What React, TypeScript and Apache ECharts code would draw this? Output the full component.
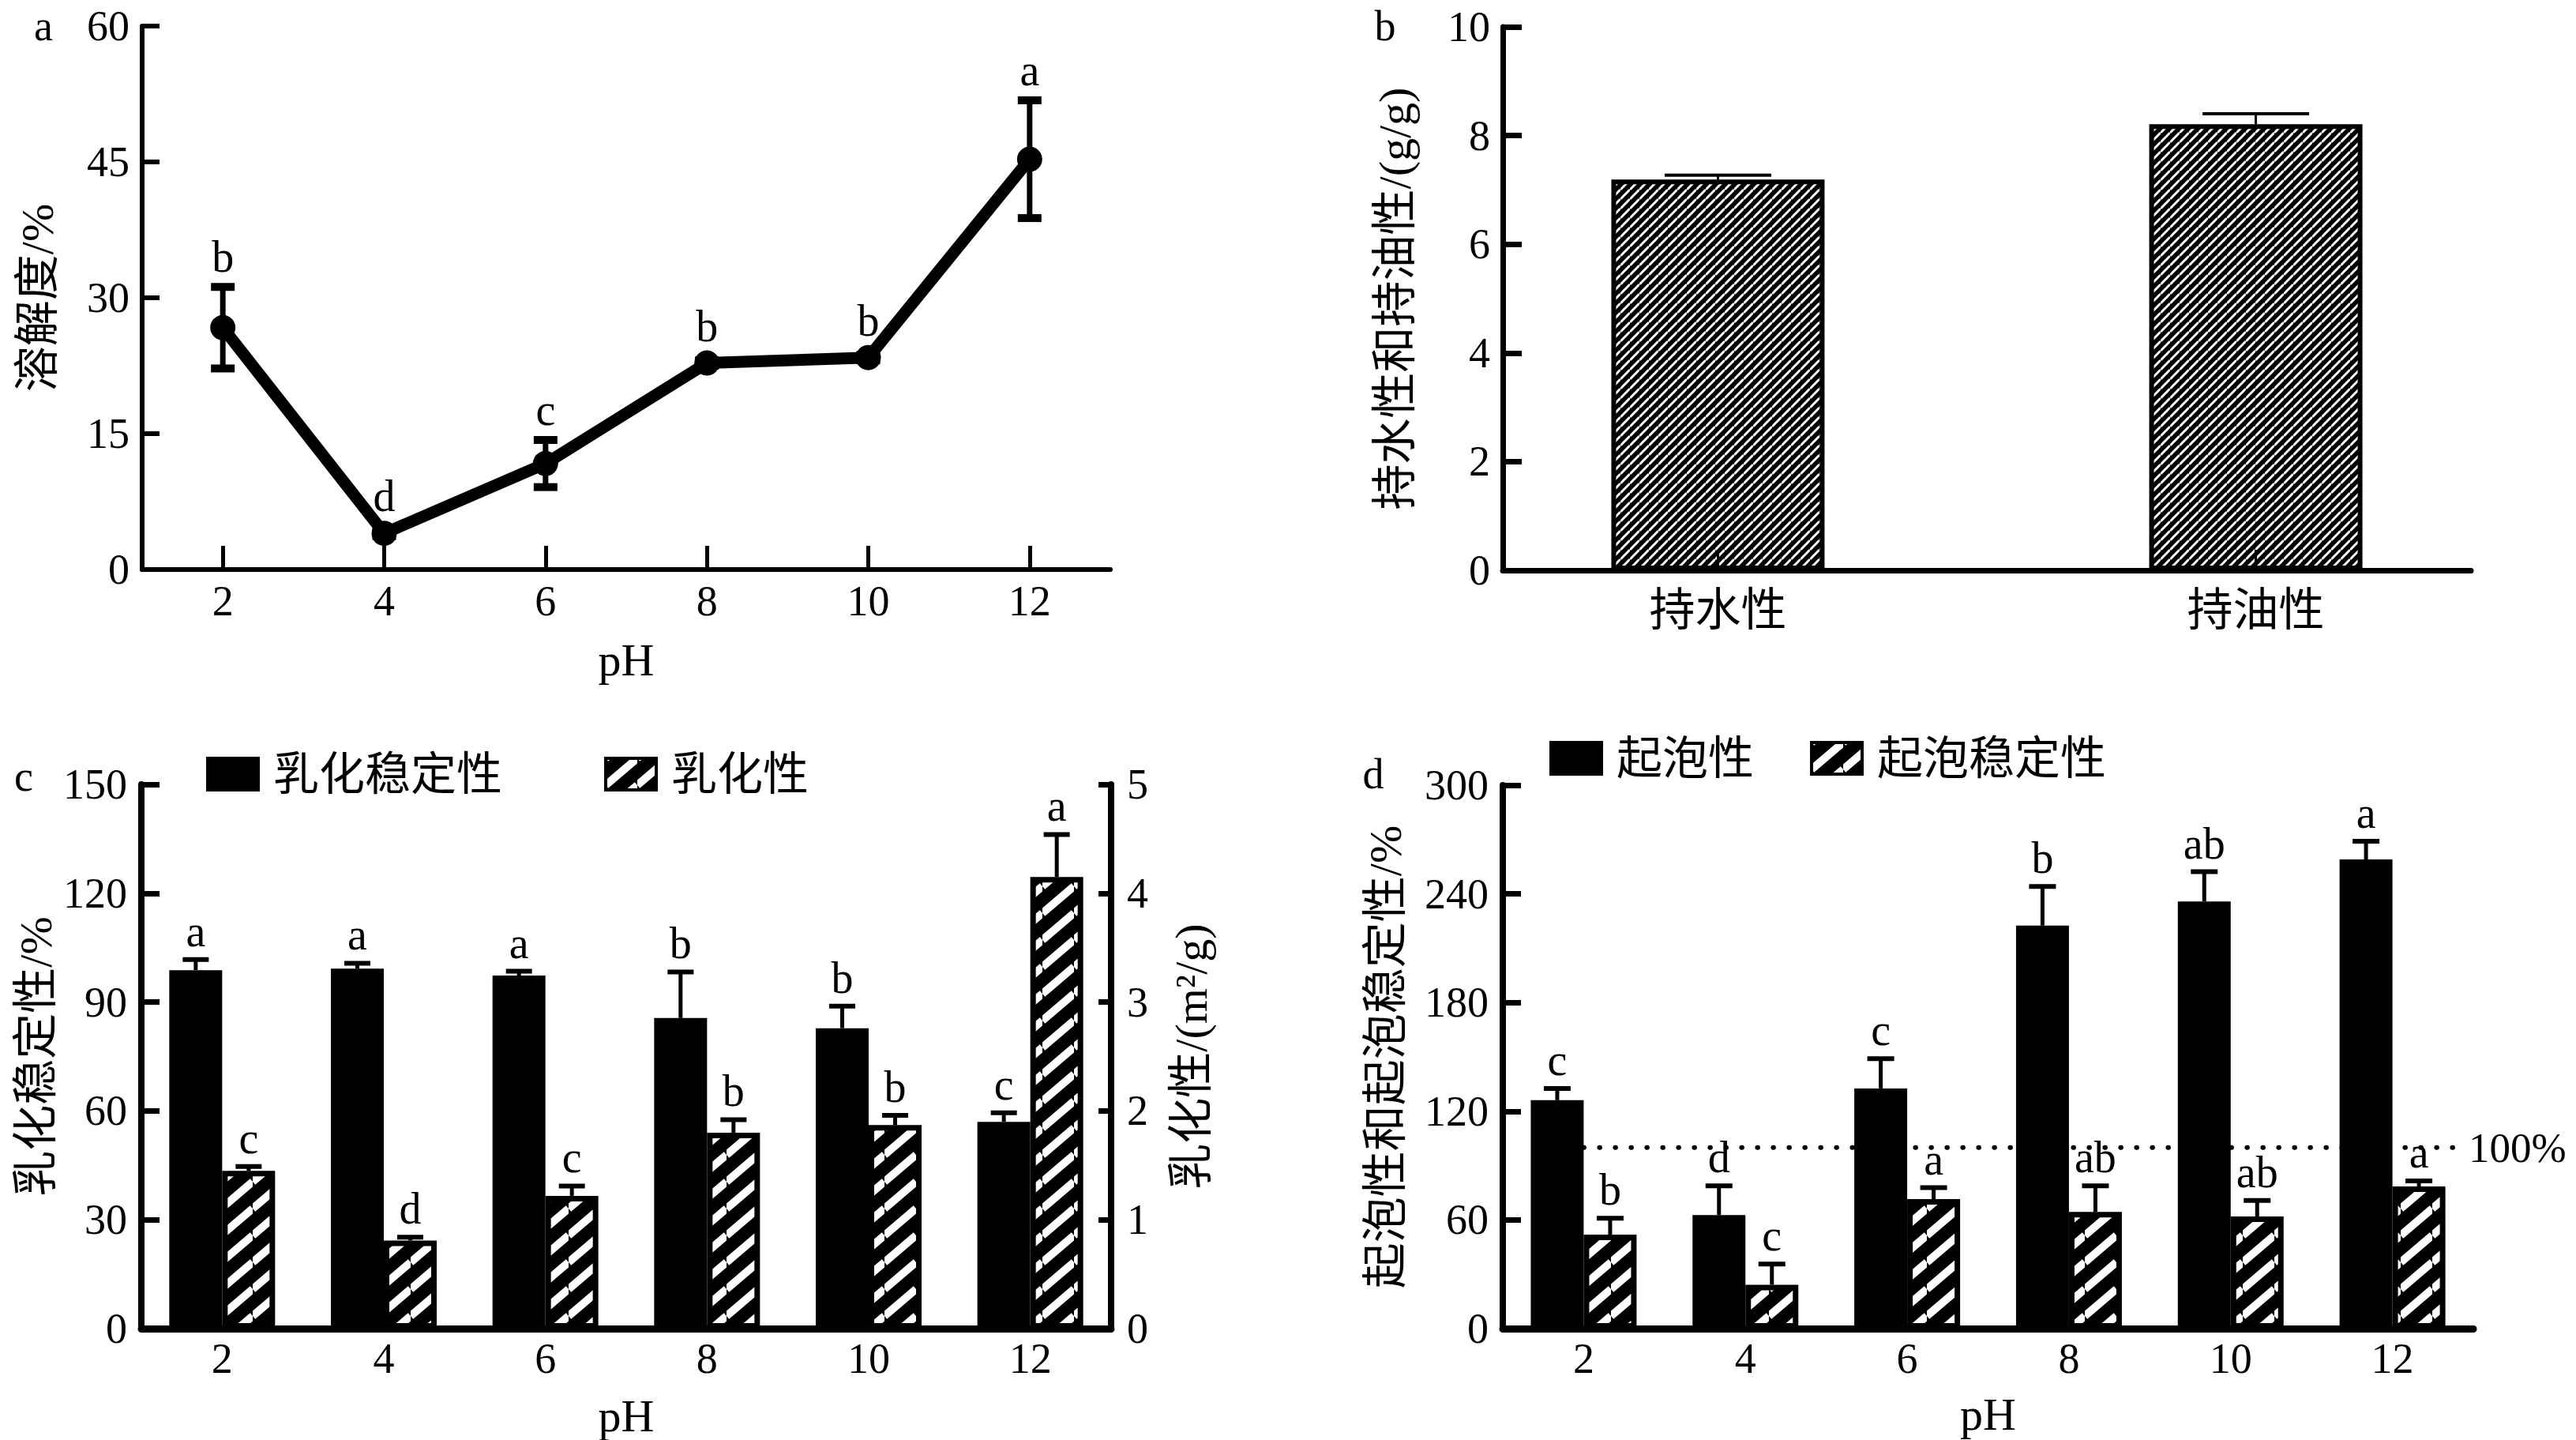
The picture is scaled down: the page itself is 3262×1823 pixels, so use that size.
import React, { useEffect, useRef } from 'react'
import * as echarts from 'echarts'

// shared category axis for a, c and d
const pH = ['2', '4', '6', '8', '10', '12']

// a: 溶解度 (%)
const solubility = [26.7, 4.0, 11.7, 22.8, 23.4, 45.3]
const solubilityErr = [4.5, 0.3, 2.6, 0.3, 0.3, 6.5]
const solubilityLetters = ['b', 'd', 'c', 'b', 'b', 'a']

// b: 持水性 / 持油性 (g/g)
const holdingNames = ['持水性', '持油性']
const holding = [7.19, 8.21]
const holdingErr = [0.08, 0.19]

// c: 乳化稳定性 (%) on the left axis, 乳化性 (m²/g) on the right axis
const emulStability = [98.8, 99.2, 97.3, 85.6, 82.8, 57.0]
const emulStabilityErr = [2.9, 1.5, 1.2, 12.7, 6.1, 2.5]
const emulStabilityLetters = ['a', 'a', 'a', 'b', 'b', 'c']
const emulActivity = [1.45, 0.81, 1.22, 1.8, 1.87, 4.15]
const emulActivityErr = [0.04, 0.03, 0.09, 0.12, 0.09, 0.39]
const emulActivityLetters = ['c', 'd', 'c', 'b', 'b', 'a']

// d: 起泡性 / 起泡稳定性 (%)
const foaming = [126.1, 62.7, 132.6, 222.5, 235.8, 259.0]
const foamingErr = [6.5, 16.1, 16.4, 21.6, 16.4, 10.0]
const foamingLetters = ['c', 'd', 'c', 'b', 'ab', 'a']
const foamStability = [51.9, 24.2, 71.5, 64.4, 61.9, 78.5]
const foamStabilityErr = [9.0, 11.5, 6.3, 14.4, 8.8, 3.0]
const foamStabilityLetters = ['b', 'c', 'a', 'ab', 'ab', 'a']
const foamReference = 100

const SERIF = '"Liberation Serif", "Noto Sans CJK SC", serif'
const BAR_W = 67

const makeHatch = (w: number, h: number, lineWidth: number) => {
  const c = document.createElement('canvas')
  c.width = w
  c.height = h
  const ctx = c.getContext('2d')!
  ctx.fillStyle = '#000'
  ctx.fillRect(0, 0, w, h)
  ctx.strokeStyle = '#fff'
  ctx.lineWidth = lineWidth
  for (const k of [-1, 0, 1]) {
    ctx.beginPath()
    ctx.moveTo(0, h + k * h)
    ctx.lineTo(w, k * h)
    ctx.stroke()
  }
  return { image: c, repeat: 'repeat', imageWidth: w, imageHeight: h } as any
}

const tickLabel = { color: '#000', fontSize: 54, fontFamily: SERIF, lineHeight: 40 }
const nameText = { color: '#000', fontSize: 58, fontFamily: SERIF }

const line = (width: number) => ({ show: true, onZero: false, lineStyle: { color: '#000', width } })
const tick = (length: number, width: number) => ({
  show: true,
  inside: true,
  length,
  lineStyle: { color: '#000', width }
})

interface ErrOpts {
  xAxisIndex: number
  yAxisIndex: number
  values: number[]
  errs: number[]
  letters?: string[]
  offset: number
  capWidth: number
  capThick: number
  lineWidth: number
  both?: boolean
  minLabelGap?: number
}

// error bars plus significance letters, drawn through the axes' own scales
const errorSeries = (o: ErrOpts) => ({
  type: 'custom',
  xAxisIndex: o.xAxisIndex,
  yAxisIndex: o.yAxisIndex,
  z: 5,
  silent: true,
  clip: false,
  data: o.values.map((v, i) => [i, v, o.errs[i]]),
  renderItem: (params: any, api: any) => {
    const i = api.value(0)
    const v = api.value(1)
    const e = api.value(2)
    const base = api.coord([i, v])
    const hi = api.coord([i, v + e])
    const lo = api.coord([i, v - e])
    const x = base[0] + o.offset
    const stroke = { stroke: '#000' }
    const children: any[] = [
      {
        type: 'line',
        shape: { x1: x, y1: o.both ? lo[1] : base[1], x2: x, y2: hi[1] },
        style: { ...stroke, lineWidth: o.lineWidth }
      },
      {
        type: 'line',
        shape: { x1: x - o.capWidth / 2, y1: hi[1], x2: x + o.capWidth / 2, y2: hi[1] },
        style: { ...stroke, lineWidth: o.capThick }
      }
    ]
    if (o.both) {
      children.push({
        type: 'line',
        shape: { x1: x - o.capWidth / 2, y1: lo[1], x2: x + o.capWidth / 2, y2: lo[1] },
        style: { ...stroke, lineWidth: o.capThick }
      })
    }
    if (o.letters) {
      let y = hi[1] - o.capThick / 2 - 5
      if (o.minLabelGap) y = Math.min(y, base[1] - o.minLabelGap)
      children.push({
        type: 'text',
        x,
        y,
        style: {
          text: o.letters[params.dataIndex],
          fontSize: 56,
          fontFamily: SERIF,
          fill: '#000',
          align: 'center',
          verticalAlign: 'bottom'
        }
      })
    }
    return { type: 'group', children }
  }
})

const buildOption = () => {
  const coarseHatch = makeHatch(40, 34, 10)
  const fineHatch = makeHatch(12, 12, 3)

  const legendBase = {
    orient: 'horizontal',
    selectedMode: false,
    padding: 0,
    icon: 'rect',
    itemWidth: 64,
    itemHeight: 40,
    itemStyle: { borderColor: '#000', borderWidth: 4 },
    textStyle: { ...nameText, lineHeight: 60, padding: [0, 0, 0, 14] }
  }

  const panelLetter = (text: string, x: number, y: number) => ({
    type: 'text',
    x,
    y,
    style: {
      text,
      fontSize: 54,
      lineHeight: 40,
      fontFamily: SERIF,
      fill: '#000',
      align: 'center',
      verticalAlign: 'middle'
    }
  })

  const pHName = (gap: number) => ({
    name: 'pH',
    nameLocation: 'middle',
    nameGap: gap,
    nameTextStyle: { ...nameText, lineHeight: 44 }
  })

  return {
    animation: false,
    backgroundColor: '#fff',
    grid: [
      { left: 180, top: 33, width: 1226, height: 688 },
      { left: 1903, top: 34, width: 1226, height: 688 },
      { left: 179, top: 993, width: 1228, height: 689 },
      { left: 1903, top: 994, width: 1229, height: 688 }
    ],
    legend: [
      { ...legendBase, data: ['乳化稳定性'], left: 261, top: 950 },
      { ...legendBase, data: ['乳化性'], left: 765, top: 950 },
      { ...legendBase, data: ['起泡性'], left: 1962, top: 930 },
      { ...legendBase, data: ['起泡稳定性'], left: 2292, top: 930 }
    ],
    graphic: [
      panelLetter('a', 55, 33),
      panelLetter('b', 1754, 33),
      panelLetter('c', 30, 983),
      panelLetter('d', 1739, 980)
    ],
    xAxis: [
      {
        gridIndex: 0,
        type: 'category',
        data: pH,
        boundaryGap: true,
        axisLine: line(6),
        axisTick: { ...tick(30, 5), alignWithLabel: true },
        axisLabel: { ...tickLabel, margin: 20 },
        ...pHName(92)
      },
      {
        gridIndex: 1,
        type: 'value',
        min: -0.4,
        max: 1.4,
        z: 3,
        axisLine: line(7),
        axisTick: { ...tick(26, 3), customValues: [0, 1] },
        axisLabel: {
          ...tickLabel,
          fontSize: 58,
          lineHeight: 58,
          margin: 21,
          customValues: [0, 1],
          formatter: (v: number) => holdingNames[Math.round(v)] ?? ''
        },
        splitLine: { show: false }
      },
      {
        gridIndex: 2,
        type: 'category',
        data: pH,
        boundaryGap: true,
        axisLine: line(9),
        axisTick: { show: false },
        axisLabel: { ...tickLabel, margin: 18 },
        ...pHName(88)
      },
      {
        gridIndex: 3,
        type: 'category',
        data: pH,
        boundaryGap: true,
        axisLine: line(9),
        axisTick: { show: false },
        axisLabel: { ...tickLabel, margin: 18 },
        ...pHName(86)
      }
    ],
    yAxis: [
      {
        gridIndex: 0,
        type: 'value',
        min: 0,
        max: 60,
        interval: 15,
        axisLine: line(6),
        axisTick: tick(22, 6),
        axisLabel: { ...tickLabel, margin: 16 },
        splitLine: { show: false },
        name: '溶解度/%',
        nameLocation: 'middle',
        nameRotate: 90,
        nameGap: 104,
        nameTextStyle: nameText
      },
      {
        gridIndex: 1,
        type: 'value',
        min: 0,
        max: 10,
        interval: 2,
        axisLine: line(7),
        axisTick: tick(24, 7),
        axisLabel: { ...tickLabel, margin: 16 },
        splitLine: { show: false },
        name: '持水性和持油性/(g/g)',
        nameLocation: 'middle',
        nameRotate: 90,
        nameGap: 108,
        nameTextStyle: nameText
      },
      {
        gridIndex: 2,
        type: 'value',
        min: 0,
        max: 150,
        interval: 30,
        axisLine: line(8),
        axisTick: tick(23, 7),
        axisLabel: { ...tickLabel, margin: 18 },
        splitLine: { show: false },
        name: '乳化稳定性/%',
        nameLocation: 'middle',
        nameRotate: 90,
        nameGap: 105,
        nameTextStyle: nameText
      },
      {
        gridIndex: 2,
        type: 'value',
        position: 'right',
        min: 0,
        max: 5,
        interval: 1,
        axisLine: line(8),
        axisTick: tick(16, 7),
        axisLabel: { ...tickLabel, margin: 20 },
        splitLine: { show: false },
        name: '乳化性/(m²/g)',
        nameLocation: 'middle',
        nameRotate: 90,
        nameGap: 72,
        nameTextStyle: nameText
      },
      {
        gridIndex: 3,
        type: 'value',
        min: 0,
        max: 300,
        interval: 60,
        axisLine: line(8),
        axisTick: tick(23, 7),
        axisLabel: { ...tickLabel, margin: 18 },
        splitLine: { show: false },
        name: '起泡性和起泡稳定性/%',
        nameLocation: 'middle',
        nameRotate: 90,
        nameGap: 120,
        nameTextStyle: nameText
      }
    ],
    series: [
      // a
      {
        name: '溶解度',
        type: 'line',
        xAxisIndex: 0,
        yAxisIndex: 0,
        data: solubility,
        symbol: 'circle',
        symbolSize: 32,
        lineStyle: { color: '#000', width: 15 },
        itemStyle: { color: '#000' },
        z: 3
      },
      errorSeries({
        xAxisIndex: 0,
        yAxisIndex: 0,
        values: solubility,
        errs: solubilityErr,
        letters: solubilityLetters,
        offset: 0,
        capWidth: 30,
        capThick: 10,
        lineWidth: 7,
        both: true,
        minLabelGap: 19
      }),
      // b
      {
        name: '持水持油',
        type: 'bar',
        xAxisIndex: 1,
        yAxisIndex: 1,
        data: holding.map((v, i) => [i, v]),
        barWidth: 270,
        itemStyle: { color: fineHatch, borderColor: '#000', borderWidth: 6 }
      },
      errorSeries({
        xAxisIndex: 1,
        yAxisIndex: 1,
        values: holding,
        errs: holdingErr,
        offset: 0,
        capWidth: 135,
        capThick: 4,
        lineWidth: 3
      }),
      // c
      {
        name: '乳化稳定性',
        type: 'bar',
        xAxisIndex: 2,
        yAxisIndex: 2,
        data: emulStability,
        barWidth: BAR_W,
        barGap: '0%',
        itemStyle: { color: '#000' }
      },
      {
        name: '乳化性',
        type: 'bar',
        xAxisIndex: 2,
        yAxisIndex: 3,
        data: emulActivity,
        barWidth: BAR_W,
        barGap: '0%',
        itemStyle: { color: coarseHatch, borderColor: '#000', borderWidth: 7 }
      },
      errorSeries({
        xAxisIndex: 2,
        yAxisIndex: 2,
        values: emulStability,
        errs: emulStabilityErr,
        letters: emulStabilityLetters,
        offset: -BAR_W / 2,
        capWidth: 33,
        capThick: 6,
        lineWidth: 5
      }),
      errorSeries({
        xAxisIndex: 2,
        yAxisIndex: 3,
        values: emulActivity,
        errs: emulActivityErr,
        letters: emulActivityLetters,
        offset: BAR_W / 2,
        capWidth: 33,
        capThick: 6,
        lineWidth: 5
      }),
      // d
      {
        name: '起泡性',
        type: 'bar',
        xAxisIndex: 3,
        yAxisIndex: 4,
        data: foaming,
        barWidth: BAR_W,
        barGap: '0%',
        itemStyle: { color: '#000' }
      },
      {
        name: '起泡稳定性',
        type: 'bar',
        xAxisIndex: 3,
        yAxisIndex: 4,
        data: foamStability,
        barWidth: BAR_W,
        barGap: '0%',
        itemStyle: { color: coarseHatch, borderColor: '#000', borderWidth: 7 }
      },
      errorSeries({
        xAxisIndex: 3,
        yAxisIndex: 4,
        values: foaming,
        errs: foamingErr,
        letters: foamingLetters,
        offset: -BAR_W / 2,
        capWidth: 34,
        capThick: 6,
        lineWidth: 5
      }),
      errorSeries({
        xAxisIndex: 3,
        yAxisIndex: 4,
        values: foamStability,
        errs: foamStabilityErr,
        letters: foamStabilityLetters,
        offset: BAR_W / 2,
        capWidth: 34,
        capThick: 6,
        lineWidth: 5
      }),
      // dotted 100% reference line in d
      {
        type: 'custom',
        xAxisIndex: 3,
        yAxisIndex: 4,
        z: 4,
        silent: true,
        clip: false,
        data: [[0, foamReference]],
        renderItem: (params: any, api: any) => {
          const p = api.coord([api.value(0), api.value(1)])
          const cs = params.coordSys
          const x2 = cs.x + cs.width - 18
          return {
            type: 'group',
            children: [
              {
                type: 'line',
                shape: { x1: p[0], y1: p[1], x2, y2: p[1] },
                style: { stroke: '#000', lineWidth: 6, lineDash: [0.5, 19.5], lineCap: 'round' }
              },
              {
                type: 'text',
                x: x2 + 12,
                y: p[1],
                style: {
                  text: foamReference + '%',
                  fontSize: 53,
                  fontFamily: SERIF,
                  fill: '#000',
                  align: 'left',
                  verticalAlign: 'middle'
                }
              }
            ]
          }
        }
      }
    ]
  }
}

export default function App() {
  const ref = useRef<HTMLDivElement>(null)

  useEffect(() => {
    if (!ref.current) return
    const chart = echarts.init(ref.current, undefined, { renderer: 'svg' })
    chart.setOption(buildOption() as any)
    return () => {
      chart.dispose()
    }
  }, [])

  return (
    <div
      ref={ref}
      style={{ position: 'absolute', left: 0, top: 0, width: 3262, height: 1823, background: '#fff' }}
    />
  )
}
